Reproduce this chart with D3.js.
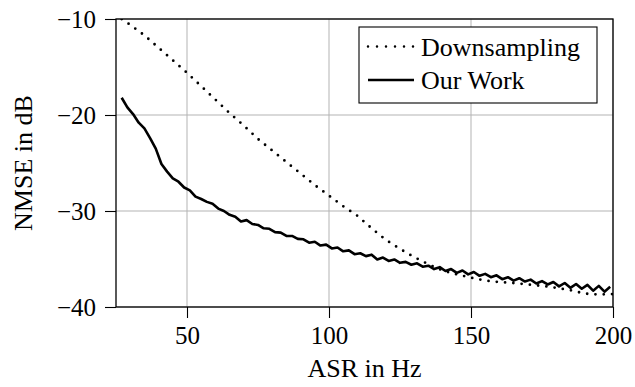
<!DOCTYPE html>
<html>
<head>
<meta charset="utf-8">
<script src="https://cdn.jsdelivr.net/npm/d3@7"></script>
<style>
  body { margin: 0; background: #fff; }
  text { font-family: "Liberation Serif", "Times New Roman", serif; fill: #000; }
</style>
</head>
<body>
<div id="grafico"></div>
<script>
// ASR in Hz / NMSE in dB
const downX = [27, 30, 35, 40, 45, 50, 55, 60, 65, 70, 75, 80, 85, 90, 95, 100, 105, 110, 115, 120,
               125, 130, 135, 140, 145, 150, 155, 160, 165, 170, 175, 180, 185, 190, 195, 200];
const downY = [-10.0, -10.6, -11.7, -13.0, -14.3, -15.6, -17.0, -18.4, -19.8, -21.1, -22.5, -23.7, -24.9, -26.1, -27.3, -28.4, -29.5, -30.5, -31.8, -33.0,
               -33.95, -34.8, -35.55, -36.2, -36.6, -36.95, -37.25, -37.4, -37.5, -37.65, -37.8, -38.0, -38.25, -38.6, -38.7, -38.65];

const oursX = [27, 29, 31, 33, 35, 37, 39, 41, 43, 45, 47, 49, 51, 53, 55, 57, 59, 61, 63, 65,
               67, 69, 71, 73, 75, 77, 79, 81, 83, 85, 87, 89, 91, 93, 95, 97, 99, 101, 103, 105,
               107, 109, 111, 113, 115, 117, 119, 121, 123, 125, 127, 129, 131, 133, 135, 137, 139, 141, 143, 145,
               147, 149, 151, 153, 155, 157, 159, 161, 163, 165, 167, 169, 171, 173, 175, 177, 179, 181, 183, 185,
               187, 189, 191, 193, 195, 197, 199];
const oursY = [-18.2, -19.2, -19.9, -20.8, -21.4, -22.4, -23.5, -25.1, -25.9, -26.6, -26.95, -27.55, -27.85, -28.5, -28.75, -29.05, -29.25, -29.75, -30.0, -30.4,
               -30.6, -31.1, -30.95, -31.35, -31.45, -31.8, -31.85, -32.2, -32.25, -32.6, -32.6, -32.9, -32.95, -33.3, -33.2, -33.6, -33.5, -33.9, -33.8, -34.2,
               -34.1, -34.5, -34.4, -34.7, -34.55, -35.05, -34.85, -35.2, -35.05, -35.4, -35.3, -35.6, -35.45, -35.8, -35.7, -36.05, -35.85, -36.25, -36.05, -36.45,
               -36.2, -36.6, -36.35, -36.75, -36.55, -36.9, -36.7, -37.1, -36.9, -37.25, -37.0, -37.35, -37.15, -37.55, -37.3, -37.65, -37.4, -37.85, -37.5, -38.0,
               -37.6, -38.1, -37.7, -38.3, -37.8, -38.4, -37.9];

const xTicks = [50, 100, 150, 200];
const yTicks = [-10, -20, -30, -40];
const legendNames = ["Downsampling", "Our Work"];

const margin = { top: 19, left: 116, right: 22, bottom: 80 };
const width  = 497;
const height = 288;

const svg = d3.select("#grafico")
              .append("svg")
              .attr("width", 635)
              .attr("height", 387)
              .append("g")
              .attr("transform", `translate(${margin.left}, ${margin.top})`);

const xScale = d3.scaleLinear().domain([25, 200]).range([0, width]);
const yScale = d3.scaleLinear().domain([-40, -10]).range([height, 0]);

svg.append("defs").append("clipPath")
   .attr("id", "clip")
   .append("rect")
   .attr("width", width)
   .attr("height", height);

// grid
svg.append("g")
   .selectAll("line.gx")
   .data(xTicks)
   .join("line")
   .attr("x1", d => xScale(d)).attr("x2", d => xScale(d))
   .attr("y1", 0).attr("y2", height)
   .attr("stroke", "#b3b3b3").attr("stroke-width", 1);

svg.append("g")
   .selectAll("line.gy")
   .data(yTicks)
   .join("line")
   .attr("x1", 0).attr("x2", width)
   .attr("y1", d => yScale(d)).attr("y2", d => yScale(d))
   .attr("stroke", "#b3b3b3").attr("stroke-width", 1);

// axes
const xAxis = svg.append("g")
   .attr("transform", `translate(0, ${height})`)
   .call(d3.axisBottom(xScale).tickValues(xTicks).tickSize(11).tickPadding(8));

const yAxis = svg.append("g")
   .call(d3.axisLeft(yScale).tickValues(yTicks).tickSize(11).tickPadding(9)
           .tickFormat(d => "\u2212" + Math.abs(d)));

[xAxis, yAxis].forEach(a => {
    a.select(".domain").remove();
    a.selectAll("line").attr("stroke", "#000").attr("stroke-width", 1.1);
    a.selectAll("text").attr("font-size", "25px")
     .style("font-family", "'Liberation Serif', serif");
});

// frame
svg.append("rect")
   .attr("width", width)
   .attr("height", height)
   .attr("fill", "none")
   .attr("stroke", "#000")
   .attr("stroke-width", 1.3);

const line = d3.line()
               .x(d => xScale(d[0]))
               .y(d => yScale(d[1]));

const plot = svg.append("g").attr("clip-path", "url(#clip)");

plot.append("path")
    .datum(d3.zip(downX, downY))
    .attr("fill", "none")
    .attr("stroke", "#000")
    .attr("stroke-width", 2.8)
    .attr("stroke-linecap", "round")
    .attr("stroke-dasharray", "0,8.3")
    .attr("d", line);

plot.append("path")
    .datum(d3.zip(oursX, oursY))
    .attr("fill", "none")
    .attr("stroke", "#000")
    .attr("stroke-width", 2.6)
    .attr("stroke-linejoin", "round")
    .attr("d", line);

// legend
const legend = svg.append("g").attr("transform", "translate(243, 8)");

legend.append("rect")
      .attr("width", 238)
      .attr("height", 76)
      .attr("fill", "#fff")
      .attr("stroke", "#000")
      .attr("stroke-width", 1.1);

legendNames.forEach((name, i) => {
    const y = 19.5 + i * 33.5;
    legend.append("line")
          .attr("x1", 9).attr("x2", 55)
          .attr("y1", y).attr("y2", y)
          .attr("stroke", "#000")
          .attr("stroke-width", i === 0 ? 2.5 : 2.6)
          .attr("stroke-linecap", i === 0 ? "round" : "butt")
          .attr("stroke-dasharray", i === 0 ? "0,9" : null);
    legend.append("text")
          .attr("x", 62)
          .attr("y", y + 9)
          .attr("font-size", "26px")
          .text(name);
});

// axis titles
svg.append("text")
   .attr("x", width / 2)
   .attr("y", height + 70)
   .attr("font-size", "26px")
   .style("text-anchor", "middle")
   .text("ASR in Hz");

svg.append("text")
   .attr("transform", "rotate(-90)")
   .attr("x", -(height / 2))
   .attr("y", -84)
   .attr("font-size", "26px")
   .style("text-anchor", "middle")
   .text("NMSE in dB");
</script>
</body>
</html>
